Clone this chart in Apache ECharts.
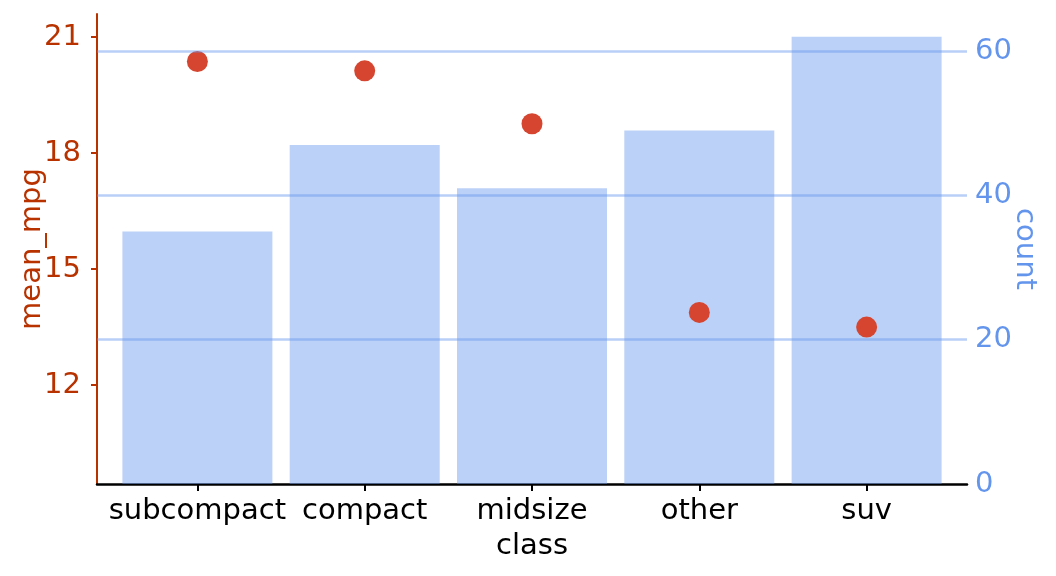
<!DOCTYPE html>
<html>
<head>
    <meta charset="UTF-8">
    <title></title>
    <style type="text/css">
        html, body { margin: 0; padding: 0; background: #fff; }
        #mychart { width: 1056px; height: 576px; }
    </style>
</head>
<body>
<div id='mychart'></div>
<script src='https://cdn.jsdelivr.net/npm/echarts@6/dist/echarts.min.js'></script>
<script>
    // data
    var classes = ['subcompact', 'compact', 'midsize', 'other', 'suv'];
    var counts = [35, 47, 41, 49, 62];
    var meanMpg = [20.37, 20.13, 18.76, 13.88, 13.50];
    var mpgTicks = [12, 15, 18, 21];
    var countTicks = [0, 20, 40, 60];
    var gridVals = [20, 40, 60];

    var red = '#b83200';
    var blue = '#6495ED';
    var font = 'DejaVu Sans';
    var fs = 29;

    // classes sit at 0..n-1 on a value axis, with 0.6 of padding each side
    var pos = classes.map(function (c, i) { return i; });

    var myChart = echarts.init(document.getElementById('mychart'));

    var option = {
        animation: false,
        backgroundColor: '#fff',
        textStyle: {fontFamily: font},
        grid: {left: 97, right: 89, top: 14, bottom: 92, outerBoundsMode: 'none', containLabel: false},
        xAxis: {
            type: 'value',
            min: -0.6,
            max: classes.length - 0.4,
            name: 'class',
            nameLocation: 'middle',
            nameGap: 48,
            nameMoveOverlap: false,
            nameTextStyle: {color: '#000', fontSize: fs, fontFamily: font},
            axisLine: {show: true, onZero: false, lineStyle: {color: '#000', width: 2.5}},
            axisTick: {show: true, length: 7, customValues: pos, lineStyle: {color: '#000', width: 2}},
            axisLabel: {
                color: '#000', fontSize: fs, margin: 13, fontFamily: font,
                customValues: pos,
                formatter: function (v) { return classes[v]; }
            },
            splitLine: {show: false}
        },
        yAxis: [{
            type: 'value',
            position: 'left',
            min: 9.44,
            max: 21.6,
            name: 'mean_mpg',
            nameLocation: 'middle',
            nameGap: 50,
            nameMoveOverlap: false,
            nameTextStyle: {color: red, fontSize: fs, fontFamily: font},
            axisLine: {show: true, onZero: false, lineStyle: {color: red, width: 2}},
            axisTick: {show: true, length: 6, customValues: mpgTicks, lineStyle: {color: red, width: 2}},
            axisLabel: {color: red, fontSize: fs, margin: 16, customValues: mpgTicks, fontFamily: font},
            splitLine: {show: false}
        }, {
            type: 'value',
            position: 'right',
            min: 0,
            max: 65.14,
            name: 'count',
            nameLocation: 'middle',
            nameRotate: -90,
            nameGap: 43,
            nameMoveOverlap: false,
            nameTextStyle: {color: blue, fontSize: fs, fontFamily: font},
            axisLine: {show: false, onZero: false},
            axisTick: {show: false},
            axisLabel: {color: blue, fontSize: fs, margin: 8, customValues: countTicks, fontFamily: font},
            splitLine: {show: false}
        }],
        series: [{
            name: 'count',
            type: 'bar',
            yAxisIndex: 1,
            data: pos.map(function (i) { return [i, counts[i]]; }),
            barWidth: 150,
            itemStyle: {color: 'rgba(100,149,237,0.43)'},
            markLine: {
                silent: true,
                symbol: 'none',
                label: {show: false},
                lineStyle: {type: 'solid', color: 'rgba(100,149,237,0.45)', width: 2.5},
                data: gridVals.map(function (v) { return {yAxis: v}; })
            }
        }, {
            name: 'mean_mpg',
            type: 'scatter',
            yAxisIndex: 0,
            data: pos.map(function (i) { return [i, meanMpg[i]]; }),
            symbolSize: 21,
            itemStyle: {color: '#d5452f', opacity: 1}
        }]
    };

    myChart.setOption(option);
</script>
</body>
</html>
